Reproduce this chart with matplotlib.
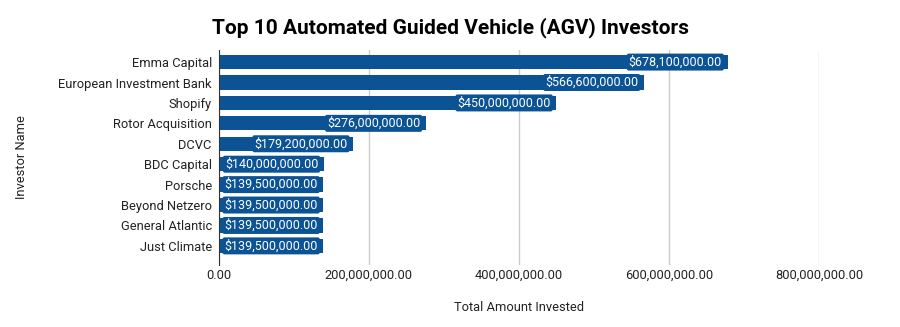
import matplotlib
matplotlib.use("Agg")
import matplotlib.pyplot as plt
from matplotlib.ticker import FuncFormatter

investors = ["Emma Capital", "European Investment Bank", "Shopify", "Rotor Acquisition",
             "DCVC", "BDC Capital", "Porsche", "Beyond Netzero", "General Atlantic", "Just Climate"]
amounts = [678100000, 566600000, 450000000, 276000000, 179200000,
           140000000, 139500000, 139500000, 139500000, 139500000]
xticks = [0, 200000000, 400000000, 600000000, 800000000]

bar_color = "#0b5394"
plt.rcParams['font.family'] = ['Roboto', 'DejaVu Sans']

fig = plt.figure(figsize=(9, 3.27), dpi=100)
ax = fig.add_axes([0.243, 0.19, 0.667, 0.657])

ypos = list(range(len(investors)))
ax.barh(ypos, amounts, height=0.7, color=bar_color, zorder=3)
for y, v in zip(ypos, amounts):
    ax.annotate(f"${v:,.2f}", xy=(v, y), xytext=(-4, 0), textcoords="offset points",
                ha="right", va="center", color="white", fontsize=9, zorder=4,
                bbox=dict(boxstyle="round,pad=0.15", fc=bar_color, ec="none"))

ax.set_yticks(ypos)
ax.set_yticklabels(investors, fontsize=9.3, color="#222222")
ax.set_ylim(9.93, -0.59)
ax.set_xlim(0, 800000000)
ax.set_xticks(xticks)
ax.xaxis.set_major_formatter(FuncFormatter(lambda v, p: f"{v:,.2f}"))
ax.tick_params(axis="x", labelsize=9.3, colors="#222222", length=0, pad=3)
ax.tick_params(axis="y", length=0, pad=5)
ax.grid(axis="x", color="#cccccc", linewidth=1, zorder=0)
for s in ["top", "right", "bottom"]:
    ax.spines[s].set_visible(False)
ax.spines["left"].set_color("#333333")
ax.spines["left"].set_zorder(5)

ax.set_xlabel("Total Amount Invested", fontsize=9.3, color="#222222", labelpad=14)
ax.set_ylabel("Investor Name", fontsize=9.3, color="#222222", labelpad=22)
fig.text(0.5, 0.915, "Top 10 Automated Guided Vehicle (AGV) Investors", ha="center",
         va="center", fontsize=15, fontweight="bold", color="#000000")

fig.savefig("out.png", dpi=100)
